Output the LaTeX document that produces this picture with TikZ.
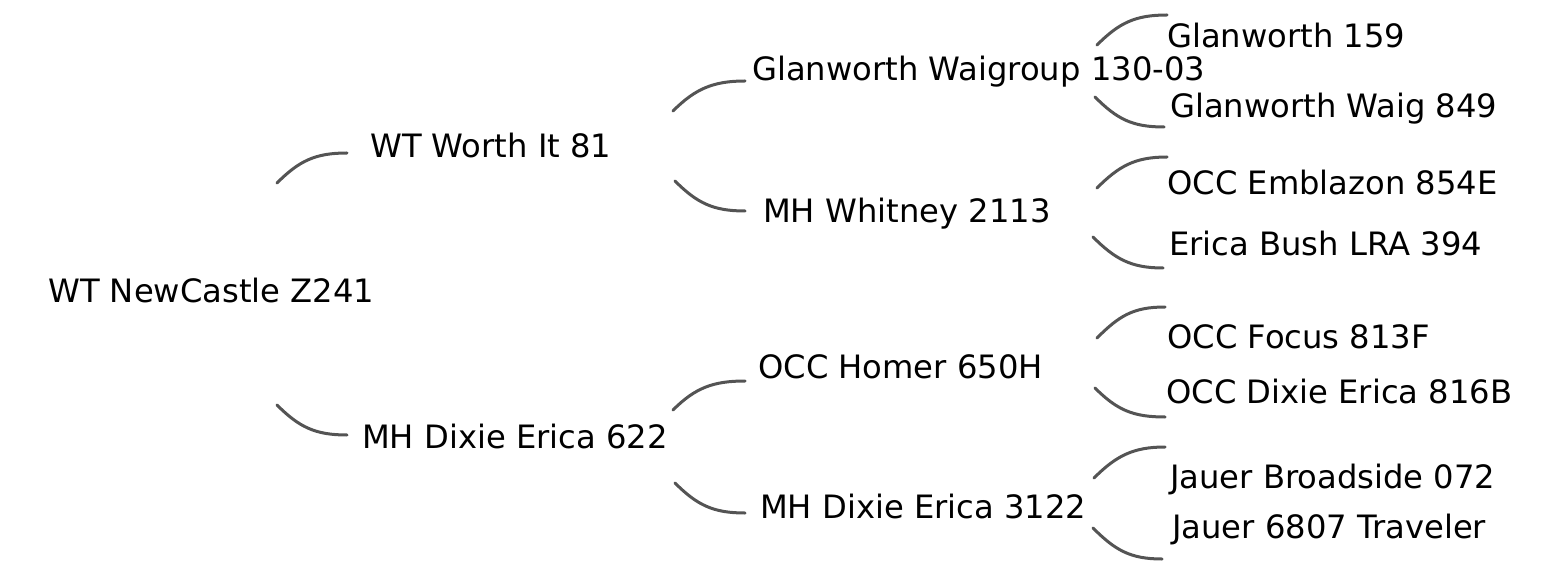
\documentclass[tikz,border=0pt]{standalone}
\usepackage{fontspec}
\setmainfont{DejaVu Sans}
\usetikzlibrary{calc}
\begin{document}
\begin{tikzpicture}[x=1pt,y=-1pt,
  lbl/.style={anchor=base west,inner sep=0pt,font=\fontsize{32.2}{38}\selectfont},
  link/.style={draw=black!67,line width=3pt,line cap=round}]
\useasboundingbox (0,0) rectangle (1555,585);
\newcommand{\lab}[4]{\node[lbl] (#1) at (#2,#3+11.5) {#4};}
\lab{n0}{48}{291}{WT NewCastle Z241}
\lab{n1}{370}{146}{WT Worth It 81}
\lab{n2}{362}{437}{MH Dixie Erica 622}
\lab{n11}{752}{69}{Glanworth Waigroup 130-03}
\lab{n12}{763}{211}{MH Whitney 2113}
\lab{n21}{758}{367}{OCC Homer 650H}
\lab{n22}{760}{507}{MH Dixie Erica 3122}
\lab{a}{1167}{36}{Glanworth 159}
\lab{b}{1170}{106}{Glanworth Waig 849}
\lab{c}{1167}{183}{OCC Emblazon 854E}
\lab{d}{1169}{244}{Erica Bush LRA 394}
\lab{e}{1167}{337}{OCC Focus 813F}
\lab{f}{1166}{392}{OCC Dixie Erica 816B}
\lab{g}{1170}{477}{Jauer Broadside 072}
\lab{h}{1172}{527}{Jauer 6807 Traveler}
% connectors
\newcommand{\up}[5]{\coordinate (#1s) at (#2,#3); \coordinate (#1e) at (#4,#5);
  \draw[link] (#1s) .. controls ($(#1s)+(22,-22)$) and ($(#1e)+(-32,0)$) .. (#1e);}
\newcommand{\dn}[5]{\coordinate (#1s) at (#2,#3); \coordinate (#1e) at (#4,#5);
  \draw[link] (#1s) .. controls ($(#1s)+(22,22)$) and ($(#1e)+(-32,0)$) .. (#1e);}
\up{c01}{277}{183}{347}{153}
\dn{c02}{277}{405}{347}{435}
\up{c11}{673}{111}{745}{81}
\dn{c12}{675}{181}{745}{211}
\up{c21}{673}{410}{745}{381}
\dn{c22}{675}{483}{745}{513}
\up{c1a}{1097}{45}{1167}{15}
\dn{c1b}{1095}{97}{1164}{127}
\up{c2a}{1097}{188}{1167}{157}
\dn{c2b}{1093}{237}{1163}{268}
\up{c3a}{1097}{338}{1165}{307}
\dn{c3b}{1095}{388}{1165}{417}
\up{c4a}{1094}{478}{1165}{447}
\dn{c4b}{1093}{528}{1162}{559}
\end{tikzpicture}
\end{document}
